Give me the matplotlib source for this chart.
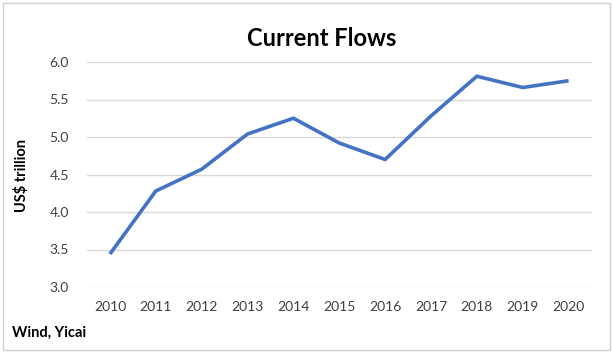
import matplotlib
matplotlib.use("Agg")
import matplotlib.pyplot as plt
from matplotlib.patches import Rectangle

years = ["2010", "2011", "2012", "2013", "2014", "2015", "2016", "2017", "2018", "2019", "2020"]
values = [3.44, 4.28, 4.57, 5.04, 5.25, 4.92, 4.70, 5.28, 5.81, 5.66, 5.75]
yticks = [3.0, 3.5, 4.0, 4.5, 5.0, 5.5, 6.0]

plt.rcParams['font.family'] = ['Lato', 'DejaVu Sans']

fig = plt.figure(figsize=(6.13, 3.58), dpi=100)
W, H = 613, 358
ax = fig.add_axes([87 / W, 1 - 287 / H, (591.5 - 87) / W, (287 - 62) / H])

x = list(range(len(years)))
ax.plot(x, values, color="#4472C4", linewidth=2.6, solid_capstyle="butt", solid_joinstyle="miter")
ax.set_xlim(-0.5, len(years) - 0.5)
ax.set_ylim(3.0, 6.0)
ax.set_yticks(yticks)
ax.set_yticklabels([f"{v:.1f}" for v in yticks])
ax.set_xticks(x)
ax.set_xticklabels(years)
ax.grid(axis="y", color="#D9D9D9", linewidth=1)
ax.set_axisbelow(True)
for s in ax.spines.values():
    s.set_visible(False)
ax.tick_params(axis="both", length=0, labelsize=10, colors="#404040")
ax.tick_params(axis="y", pad=13)
ax.tick_params(axis="x", pad=10)

fig.text(322 / W, 1 - 39 / H, "Current Flows", ha="center", va="center",
         fontsize=17, fontweight="bold", color="black")
fig.text(22 / W, 1 - 175 / H, "US$ trillion", ha="center", va="center", rotation=90,
         fontsize=10.5, fontweight="bold", color="black")
fig.text(12 / W, 1 - 333 / H, "Wind, Yicai", ha="left", va="center",
         fontsize=10.5, fontweight="bold", color="black")

fig.patches.append(Rectangle((3 / W, 8 / H), 607 / W, 347 / H, transform=fig.transFigure,
                             fill=False, edgecolor="#D0D0D0", linewidth=1))

fig.savefig("out.png", dpi=100)
